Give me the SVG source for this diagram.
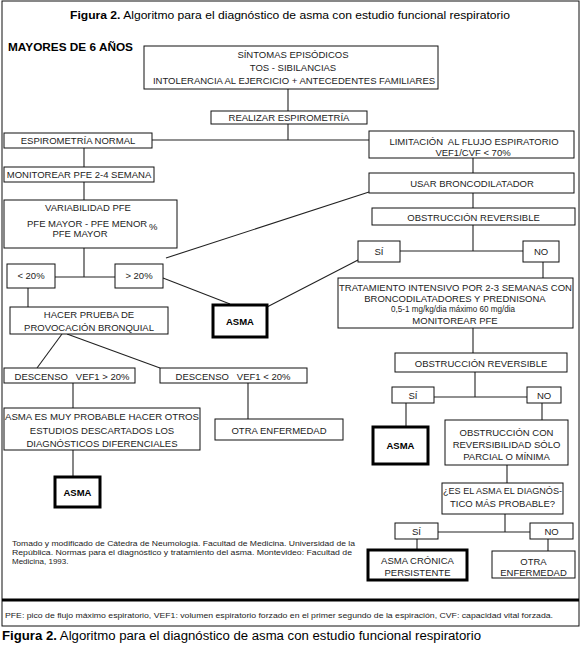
<svg xmlns="http://www.w3.org/2000/svg" width="581" height="648" viewBox="0 0 581 648">
<style>
.b{fill:#fff;stroke:#111;stroke-width:1}
.k{fill:#fff;stroke:#000;stroke-width:3}
.t{font-family:"Liberation Sans",Arial,sans-serif;font-size:9.5px;fill:#222;text-anchor:middle}
.a{font-family:"Liberation Sans",Arial,sans-serif;font-size:9.5px;font-weight:bold;fill:#000;text-anchor:middle}
.s{font-family:"Liberation Sans",Arial,sans-serif;font-size:8px;fill:#222}
.c line{stroke:#222;stroke-width:1.1}
</style>
<rect x="0" y="0" width="581" height="648" fill="#fff"/>
<rect x="2" y="1" width="577" height="625" fill="none" stroke="#111" stroke-width="1"/>
<line x1="2" y1="600" x2="579" y2="600" stroke="#000" stroke-width="3"/>
<text x="70" y="19" font-family="Liberation Sans, Arial, sans-serif" font-size="11" fill="#000" textLength="440" lengthAdjust="spacingAndGlyphs"><tspan font-weight="bold">Figura 2.</tspan> Algoritmo para el diagnóstico de asma con estudio funcional respiratorio</text>
<text x="8" y="51" font-family="Liberation Sans, Arial, sans-serif" font-size="11.5" font-weight="bold" fill="#000" textLength="125" lengthAdjust="spacingAndGlyphs">MAYORES DE 6 AÑOS</text>

<g class="c" id="connectors">
<line x1="288" y1="89" x2="288" y2="111"/>
<line x1="288" y1="124" x2="288" y2="140"/>
<line x1="152" y1="140" x2="369" y2="140"/>
<line x1="84" y1="148" x2="84" y2="167"/>
<line x1="84" y1="182" x2="84" y2="200"/>
<line x1="473" y1="158" x2="473" y2="173"/>
<line x1="369" y1="192" x2="166" y2="258"/>
<line x1="473" y1="193" x2="473" y2="208"/>
<line x1="473" y1="225" x2="473" y2="251"/>
<line x1="400" y1="251" x2="523" y2="251"/>
<line x1="543" y1="262" x2="543" y2="278"/>
<line x1="84" y1="248" x2="84" y2="277"/>
<line x1="55" y1="277" x2="115" y2="277"/>
<line x1="163" y1="278" x2="230" y2="304"/>
<line x1="267" y1="307" x2="358" y2="260"/>
<line x1="28" y1="288" x2="28" y2="307"/>
<line x1="62" y1="334" x2="37" y2="368"/>
<line x1="67" y1="334" x2="160" y2="368"/>
<line x1="73" y1="383" x2="73" y2="408"/>
<line x1="248" y1="383" x2="248" y2="419"/>
<line x1="73" y1="450" x2="73" y2="477"/>
<line x1="473" y1="328" x2="473" y2="353"/>
<line x1="475" y1="372" x2="475" y2="397"/>
<line x1="434" y1="397" x2="527" y2="397"/>
<line x1="406" y1="403" x2="406" y2="427"/>
<line x1="542" y1="403" x2="542" y2="420"/>
<line x1="507" y1="465" x2="507" y2="483"/>
<line x1="505" y1="514" x2="505" y2="532"/>
<line x1="438" y1="532" x2="530" y2="532"/>
<line x1="417" y1="539" x2="417" y2="550"/>
<line x1="548" y1="539" x2="548" y2="551"/>
</g>

<g id="sintomas"><rect class="b" x="144" y="46" width="294" height="43"/>
<text class="t" x="293" y="58">SÍNTOMAS EPISÓDICOS</text>
<text class="t" x="293" y="71">TOS - SIBILANCIAS</text>
<text class="t" x="294" y="84">INTOLERANCIA AL EJERCICIO + ANTECEDENTES FAMILIARES</text></g>

<g id="realizar"><rect class="b" x="211" y="111" width="156" height="13"/>
<text class="t" x="289" y="121">REALIZAR ESPIROMETRÍA</text></g>

<g id="espnormal"><rect class="b" x="4" y="133" width="148" height="15"/>
<text class="t" x="78" y="144">ESPIROMETRÍA NORMAL</text></g>

<g id="limitacion"><rect class="b" x="369" y="131" width="205" height="27"/>
<text class="t" x="474" y="145">LIMITACIÓN&#160; AL FLUJO ESPIRATORIO</text>
<text class="t" x="473" y="155.5">VEF1/CVF &lt; 70%</text></g>

<g id="monitorear"><rect class="b" x="4" y="167" width="150" height="15"/>
<text class="t" x="79" y="178">MONITOREAR PFE 2-4 SEMANA</text></g>

<g id="usar"><rect class="b" x="369" y="173" width="205" height="20"/>
<text class="t" x="472" y="186.5">USAR BRONCODILATADOR</text></g>

<g id="variabilidad"><rect class="b" x="4" y="200" width="173" height="48"/>
<text class="t" x="88" y="211">VARIABILIDAD PFE</text>
<text class="t" x="27" y="227" style="text-anchor:start">PFE MAYOR - PFE MENOR</text>
<text class="t" x="149" y="229.5" style="text-anchor:start">%</text>
<text class="t" x="80" y="237">PFE MAYOR</text></g>

<g id="obstr1"><rect class="b" x="372" y="208" width="203" height="17"/>
<text class="t" x="473.5" y="220.5">OBSTRUCCIÓN REVERSIBLE</text></g>

<g id="menor20"><rect class="b" x="7" y="264" width="48" height="24"/>
<text class="t" x="31" y="279">&lt; 20%</text></g>

<g id="mayor20"><rect class="b" x="115" y="264" width="48" height="24"/>
<text class="t" x="139" y="279">&gt; 20%</text></g>

<g id="si1"><rect class="b" x="358" y="241" width="42" height="21"/>
<text class="t" x="379" y="255">SÍ</text></g>

<g id="no1"><rect class="b" x="523" y="241" width="36" height="21"/>
<text class="t" x="541" y="255">NO</text></g>

<g id="asma1"><rect class="k" x="213" y="305" width="54" height="32"/>
<text class="a" x="240" y="324.5">ASMA</text></g>

<g id="tratamiento"><rect class="b" x="338" y="278" width="235" height="50"/>
<text class="t" x="455.5" y="290.5" textLength="233" lengthAdjust="spacingAndGlyphs">TRATAMIENTO INTENSIVO POR 2-3 SEMANAS CON</text>
<text class="t" x="455" y="301.5">BRONCODILATADORES Y PREDNISONA</text>
<text class="t" x="453" y="312" style="font-size:8.5px" textLength="124" lengthAdjust="spacingAndGlyphs">0,5-1 mg/kg/dia máximo 60 mg/dia</text>
<text class="t" x="455" y="323.5">MONITOREAR PFE</text></g>

<g id="hacer"><rect class="b" x="10" y="307" width="158" height="27"/>
<text class="t" x="89" y="318">HACER PRUEBA DE</text>
<text class="t" x="89" y="330.5">PROVOCACIÓN BRONQUIAL</text></g>

<g id="desc1"><rect class="b" x="4" y="368" width="131" height="15"/>
<text class="t" x="72" y="379.5">DESCENSO&#160;&#160; VEF1 &gt; 20%</text></g>

<g id="desc2"><rect class="b" x="160" y="368" width="147" height="15"/>
<text class="t" x="233" y="379.5">DESCENSO&#160;&#160; VEF1 &lt; 20%</text></g>

<g id="probable"><rect class="b" x="4" y="408" width="196" height="42"/>
<text class="t" x="102" y="419.5" textLength="194" lengthAdjust="spacingAndGlyphs">ASMA ES MUY PROBABLE HACER OTROS</text>
<text class="t" x="102" y="433.5">ESTUDIOS DESCARTADOS LOS</text>
<text class="t" x="102" y="446.5">DIAGNÓSTICOS DIFERENCIALES</text></g>

<g id="otra1"><rect class="b" x="215" y="419" width="128" height="21"/>
<text class="t" x="279" y="433.5">OTRA ENFERMEDAD</text></g>

<g id="asma2"><rect class="k" x="55" y="477" width="45" height="30"/>
<text class="a" x="77.5" y="495.5">ASMA</text></g>

<g id="obstr2"><rect class="b" x="395" y="353" width="172" height="19"/>
<text class="t" x="481" y="366.5">OBSTRUCCIÓN REVERSIBLE</text></g>

<g id="si2"><rect class="b" x="392" y="387" width="42" height="16"/>
<text class="t" x="413" y="398.5">SÍ</text></g>

<g id="no2"><rect class="b" x="527" y="387" width="34" height="16"/>
<text class="t" x="544" y="398.5">NO</text></g>

<g id="asma3"><rect class="k" x="373" y="427" width="55" height="37"/>
<text class="a" x="400.5" y="449">ASMA</text></g>

<g id="parcial"><rect class="b" x="445" y="420" width="123" height="45"/>
<text class="t" x="506.5" y="435.5">OBSTRUCCIÓN CON</text>
<text class="t" x="506.5" y="447.5">REVERSIBILIDAD SÓLO</text>
<text class="t" x="506.5" y="460">PARCIAL O MÍNIMA</text></g>

<g id="pregunta"><rect class="b" x="442" y="483" width="121" height="31"/>
<text class="t" x="502.5" y="494" textLength="119" lengthAdjust="spacingAndGlyphs">¿ES EL ASMA EL DIAGNÓS-</text>
<text class="t" x="502.5" y="507">TICO MÁS PROBABLE?</text></g>

<g id="si3"><rect class="b" x="395" y="523" width="43" height="16"/>
<text class="t" x="416.5" y="534.5">SÍ</text></g>

<g id="no3"><rect class="b" x="530" y="523" width="43" height="16"/>
<text class="t" x="551.5" y="534.5">NO</text></g>

<g id="cronica"><rect class="k" x="368" y="550" width="99" height="30"/>
<text class="t" x="417.5" y="563.5">ASMA CRÓNICA</text>
<text class="t" x="417.5" y="576">PERSISTENTE</text></g>

<g id="otra2"><rect class="b" x="492" y="551" width="83" height="27"/>
<text class="t" x="533.5" y="564.5">OTRA</text>
<text class="t" x="533.5" y="576">ENFERMEDAD</text></g>

<g id="referencia">
<text class="s" x="12" y="545.5" textLength="343" lengthAdjust="spacingAndGlyphs">Tomado y modificado de Cátedra de Neumología. Facultad de Medicina. Universidad de la</text>
<text class="s" x="12" y="554.5" textLength="340" lengthAdjust="spacingAndGlyphs">República. Normas para el diagnóstico y tratamiento del asma. Montevideo: Facultad de</text>
<text class="s" x="12" y="564">Medicina, 1993.</text>
</g>
<text class="s" x="5" y="618" textLength="548" lengthAdjust="spacingAndGlyphs">PFE: pico de flujo máximo espiratorio, VEF1: volumen espiratorio forzado en el primer segundo de la espiración, CVF: capacidad vital forzada.</text>
<text x="2" y="640" font-family="Liberation Sans, Arial, sans-serif" font-size="12" fill="#000" textLength="479" lengthAdjust="spacingAndGlyphs"><tspan font-weight="bold">Figura 2.</tspan> Algoritmo para el diagnóstico de asma con estudio funcional respiratorio</text>
</svg>
